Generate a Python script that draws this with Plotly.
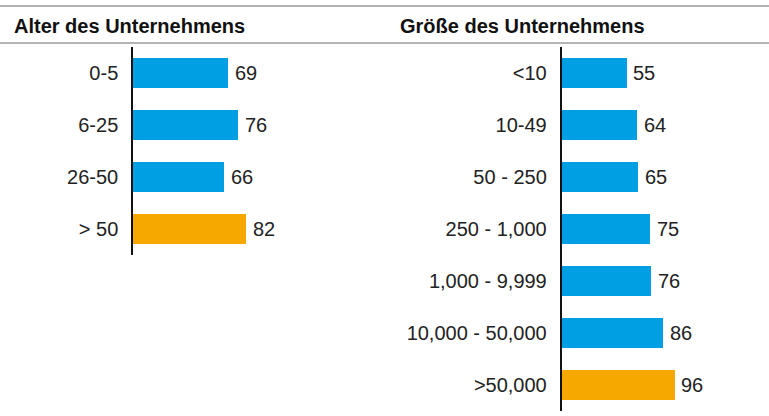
import plotly.graph_objects as go

W, H = 769, 416

# data
age_labels = ["0-5", "6-25", "26-50", "> 50"]
age_values = [69, 76, 66, 82]
size_labels = ["<10", "10-49", "50 - 250", "250 - 1,000", "1,000 - 9,999",
               "10,000 - 50,000", ">50,000"]
size_values = [55, 64, 65, 75, 76, 86, 96]

BLUE = "#009FE3"
ORANGE = "#F7A800"
FONT = "Liberation Sans, Arial, sans-serif"


def px_x(p):
    return p / W


def px_y(p):
    return 1 - p / H


def colors(vals):
    # highest value highlighted in orange
    return [ORANGE if v == max(vals) else BLUE for v in vals]


fig = go.Figure()
panels = [(age_labels, age_values, "x", "y"), (size_labels, size_values, "x2", "y2")]
for labels, vals, xa, ya in panels:
    fig.add_trace(go.Bar(x=vals, y=labels, orientation="h",
                         marker=dict(color=colors(vals), line_width=0),
                         width=0.56, xaxis=xa, yaxis=ya))
    for lab, v in zip(labels, vals):
        fig.add_annotation(text=str(v), x=v, y=lab, xref=xa, yref=ya,
                           xanchor="left", yanchor="middle", xshift=5,
                           showarrow=False, font=dict(size=20, color="#222"))

xcommon = dict(range=[0, 100], showgrid=False, zeroline=False,
               showticklabels=False, showline=False)
ycommon = dict(type="category", autorange="reversed", showgrid=False,
               zeroline=False, showline=True, linecolor="#111", linewidth=1.5,
               ticks="", ticklabelstandoff=9,
               tickfont=dict(size=20, color="#222"))

fig.update_layout(
    width=W, height=H, margin=dict(l=0, r=0, t=0, b=0),
    paper_bgcolor="white", plot_bgcolor="white",
    font=dict(family=FONT), showlegend=False, bargap=0,
    xaxis=dict(domain=[px_x(133), px_x(270.5)], anchor="y", **xcommon),
    yaxis=dict(domain=[px_y(255), px_y(47)], anchor="x", **ycommon),
    xaxis2=dict(domain=[px_x(561.5), px_x(679)], anchor="y2", **xcommon),
    yaxis2=dict(domain=[px_y(411), px_y(47)], anchor="x2", **ycommon),
)

# header rules
for yy in (6, 43):
    fig.add_shape(type="line", xref="paper", yref="paper",
                  x0=0, x1=1, y0=px_y(yy), y1=px_y(yy),
                  line=dict(color="#b4b4b4", width=2))

for txt, xx in (("Alter des Unternehmens", 12), ("Größe des Unternehmens", 398)):
    fig.add_annotation(text="<b>" + txt + "</b>", xref="paper", yref="paper",
                       x=px_x(xx), y=px_y(26), xanchor="left", yanchor="middle",
                       showarrow=False, font=dict(size=20, color="#111"))

fig.write_html("out.html", config={"displayModeBar": False},
               post_script="document.body.style.margin='0';")
